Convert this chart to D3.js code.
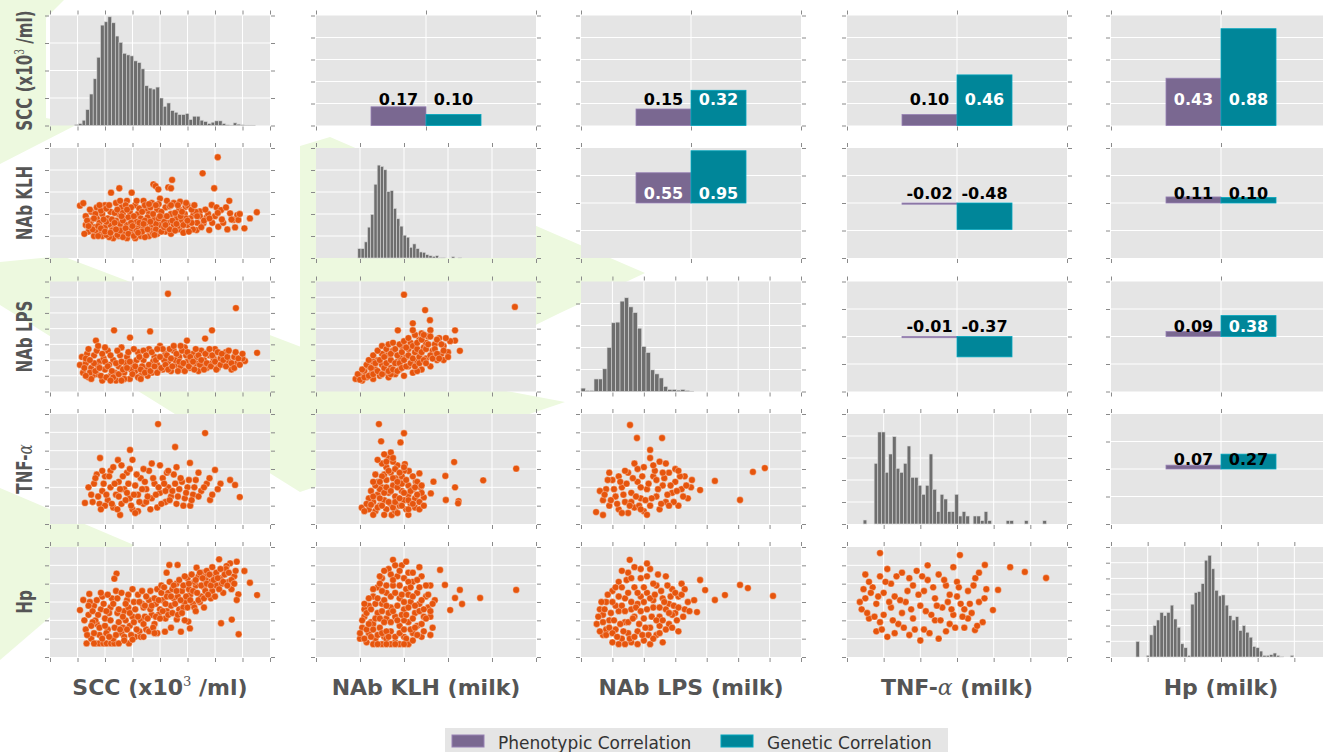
<!DOCTYPE html>
<html>
<head>
<meta charset="utf-8">
<script src="https://cdn.jsdelivr.net/npm/d3@7"></script>
<style>
  body { margin: 0; background: #fff; }
  text { font-family: "DejaVu Sans", sans-serif; }
</style>
</head>
<body>
<svg id="chart"></svg>
<script>
// ---- data ----
var varLabels = ['SCC', 'NAb KLH', 'NAb LPS', 'TNF-α', 'Hp'];
var axisSteps = [8, 5, 7, 6, 6];          // grid intervals on each variable axis

// histograms (diagonal): counts per bin, first bin left edge, bin width (axis units)
var sccHist = [3, 6, 16, 48, 95, 141, 206, 303, 313, 328, 310, 270, 251, 218, 213, 210, 195, 190, 171, 120,
  113, 110, 116, 83, 58, 68, 45, 40, 33, 33, 36, 18, 28, 28, 16, 12, 6, 10, 14, 14, 6, 2, 1, 8, 4, 2, 1, 1, 1];
var klhHist = [28, 28, 48, 92, 130, 220, 277, 273, 263, 198, 201, 148, 117, 95, 68, 62, 32, 42, 28, 18, 17, 10,
  7, 5, 7, 1, 2, 0, 0, 4, 0, 2];
var lpsHist = [10, 3, 3, 37, 37, 67, 130, 203, 205, 267, 277, 250, 233, 187, 133, 115, 64, 52, 40, 15, 6, 6, 4, 6, 3, 1];
var tnfHist = [12, 0, 0, 182, 276, 276, 155, 210, 262, 167, 155, 182, 234, 140, 140, 116, 89, 116, 210, 104, 37,
  89, 75, 37, 37, 89, 24, 37, 24, 0, 24, 24, 10, 37, 10, 0, 0, 0, 0, 10, 10, 0, 0, 0, 10, 0, 0, 0, 0, 10];
var hpHist = [47, 0, 0, 5, 67, 95, 112, 135, 125, 135, 157, 115, 90, 40, 28, 5, 160, 195, 198, 222, 293, 308, 267,
  202, 185, 188, 157, 125, 112, 122, 80, 95, 75, 60, 32, 28, 18, 5, 5, 7, 12, 5, 2, 0, 0, 5];
var histStart = [0.90, 0.95, 0.0, 0.44, 0.68];
var histWidth = [0.134, 0.0735, 0.138, 0.1, 0.0935];
var histMax = [332, 328, 325, 330, 333];
var histSteps = [4, 5, 5, 5, 7];

// correlations (upper triangle), pairs in row/col order
var corrPairs = [[0, 1], [0, 2], [0, 3], [0, 4], [1, 2], [1, 3], [1, 4], [2, 3], [2, 4], [3, 4]];
var phenCorr = [0.17, 0.15, 0.10, 0.43, 0.55, -0.02, 0.11, -0.01, 0.09, 0.07];
var genCorr = [0.10, 0.32, 0.46, 0.88, 0.95, -0.48, 0.10, -0.37, 0.38, 0.27];

// scatter points (lower triangle), "x,y" in axis units
var klhVsScc = '6.1,4.58 5.55,3.85 5.97,3.17 4.44,3.55 3.76,3.35 3.84,3.27 3.94,3.12 4.3,3.21 4.4,3.17 2.52,3.17 2.22,2.97 2.97,2.97 1.09,2.38 1.21,2.49 6.52,2.6 7.52,2.08 7.27,1.8 7.07,1.35 ' +
  '5.88,2.41 6.06,2.3 6.22,2.18 6.55,2.03 6.81,1.95 6.67,1.73 6.85,1.73 6.73,1.39 5.79,1.27 6.12,1.42 5.58,1.58 5.33,1.27 4.85,1.2 5.45,2.12 5.21,1.95 5.7,1.85 4.73,2.56 4.93,2.33 ' +
  '1.3,1.5 1.3,1.9 1.4,1.2 1.5,1.7 1.5,2.1 1.6,1.0 1.6,1.4 1.7,1.8 1.7,2.3 1.8,1.2 1.8,1.6 1.9,2.0 1.9,1.0 2.0,1.4 2.0,2.4 2.1,1.8 2.1,1.1 2.2,1.5 2.2,2.1 2.3,0.9 2.3,1.3 2.4,1.7 2.4,2.5 2.5,1.0 2.5,2.0 ' +
  '2.6,1.4 2.6,2.3 2.7,1.1 2.7,1.8 2.8,0.9 2.8,1.5 2.8,2.6 2.9,2.1 3.0,1.2 3.0,1.7 3.1,0.9 3.1,2.4 3.2,1.4 3.2,2.0 3.3,1.0 3.3,1.8 3.4,2.6 3.4,1.3 3.5,2.2 3.5,1.6 3.6,1.0 3.6,2.0 3.7,1.4 3.7,2.5 ' +
  '3.8,1.8 3.9,1.1 3.9,2.2 4.0,1.5 4.0,2.7 4.1,1.9 4.2,1.2 4.2,2.3 4.3,1.6 4.4,2.0 4.4,1.1 4.5,2.5 4.5,1.5 4.6,1.8 4.7,2.2 4.7,1.3 4.8,1.7 4.9,2.0 5.0,1.5 5.0,2.4 5.1,1.8 5.2,1.3 5.3,2.1 ' +
  '1.45,1.55 1.65,1.25 1.85,2.15 2.05,1.65 2.15,0.95 2.35,2.05 2.55,1.55 2.65,0.95 2.85,1.85 2.95,1.35 3.15,1.65 3.25,2.25 3.45,0.95 3.55,1.85 3.65,1.25 3.85,1.55 3.95,2.45 4.15,1.65 ' +
  '4.35,2.35 4.55,2.05 4.65,1.45 4.85,1.15 4.95,1.8 5.15,2.2 5.35,1.6 5.45,1.9 5.6,1.7 5.75,2.0 5.9,1.6 6.0,1.9 6.3,1.6 6.4,2.3 6.9,2.0 6.45,1.3 ' +
  '1.25,1.1 1.35,1.7 1.45,2.2 1.55,1.3 1.65,2.0 1.75,1.0 1.75,1.45 1.85,1.35 1.95,1.75 2.05,1.05 2.05,2.25 2.15,2.4 2.25,1.25 2.25,1.75 2.35,1.6 2.45,1.05 2.45,2.2 2.55,1.25 2.55,2.6 ' +
  '2.65,1.7 2.65,2.05 2.75,1.35 2.75,2.4 2.85,1.1 2.95,1.6 2.95,2.3 3.05,1.0 3.05,1.9 3.15,1.25 3.15,2.6 3.25,1.6 3.35,1.2 3.35,2.1 3.45,1.7 3.45,2.4 3.55,1.3 3.65,1.65 3.65,2.3 ' +
  '3.75,1.1 3.75,2.0 3.85,1.3 3.85,2.4 3.95,1.8 4.05,1.2 4.05,2.1 4.15,1.4 4.25,1.9 4.25,2.6 4.35,1.3 4.45,1.7 4.55,1.25 4.65,2.4 4.75,1.9 4.85,1.5 4.95,2.5 5.05,1.2 5.15,1.6 5.25,2.4 ' +
  '5.35,1.9 5.5,1.4 5.65,2.2 5.8,1.8 6.1,2.05 6.25,1.75 6.6,1.75 1.4,1.45 1.6,1.8 1.8,2.4 2.0,1.2 2.2,1.15 2.4,1.3 2.6,1.9 2.8,2.2 3.0,1.45 3.2,1.15 3.4,1.55 3.6,2.45 3.8,1.05 4.0,1.9 ' +
  '4.2,1.5 4.4,2.4 4.6,1.55 4.8,2.1 5.0,1.7';
var lpsVsScc = '4.29,6.22 6.76,5.31 5.89,3.89 2.33,3.89 3.64,3.82 1.67,3.24 7.53,2.46 7.09,1.94 5.64,3.37 4.98,3.24 2.91,3.43 1.16,2.2 1.09,1.69 ' +
  '1.2,1.2 1.3,1.8 1.4,0.9 1.5,1.5 1.6,2.3 1.7,1.1 1.8,1.9 1.9,0.7 2.0,1.4 2.1,2.6 2.2,1.0 2.3,2.0 2.4,0.7 2.5,1.6 2.6,2.8 2.7,1.2 2.8,2.2 2.9,0.8 3.0,1.8 3.1,1.3 3.2,2.5 3.3,1.0 3.4,2.0 ' +
  '3.5,1.5 3.6,2.7 3.7,1.2 3.8,2.2 3.9,1.7 4.0,2.9 4.1,1.4 4.2,2.4 4.3,1.9 4.4,1.3 4.5,2.6 4.6,1.7 4.7,2.2 4.8,1.4 4.9,2.8 5.0,1.9 5.1,1.5 5.2,2.4 5.3,1.8 5.4,1.3 5.5,2.6 5.6,2.0 5.7,1.5 ' +
  '5.8,2.3 5.9,1.8 6.0,2.7 6.1,1.5 6.2,2.1 6.3,1.7 6.4,2.5 6.5,1.9 6.6,1.4 6.7,2.2 6.8,1.8 7.0,2.1 1.35,2.4 1.55,1.0 1.75,1.6 1.95,2.1 2.15,1.7 2.35,1.2 2.55,2.3 2.75,1.8 2.95,1.4 ' +
  '3.15,2.0 3.35,1.6 3.55,1.0 3.75,1.9 3.95,1.4 4.15,2.0 4.35,2.7 4.55,2.0 4.75,1.6 4.95,2.3 5.15,2.0 5.35,2.2 5.55,1.7 5.75,2.5 5.95,2.1 ' +
  '1.25,1.5 1.3,2.1 1.4,2.7 1.45,1.2 1.5,0.8 1.6,1.8 1.65,1.3 1.7,2.6 1.8,1.5 1.85,1.0 1.9,2.4 2.0,1.9 2.05,0.9 2.1,1.6 2.2,2.3 2.25,1.3 2.3,0.9 2.4,1.8 2.45,2.6 2.5,1.1 2.6,1.9 ' +
  '2.65,1.4 2.7,0.8 2.8,1.5 2.85,2.5 2.9,1.9 3.0,1.1 3.05,2.7 3.1,1.6 3.2,0.9 3.25,2.2 3.3,1.4 3.4,2.6 3.45,1.2 3.5,2.3 3.6,1.7 3.65,1.3 3.7,2.5 3.8,1.6 3.85,2.0 3.9,1.2 4.0,2.2 ' +
  '4.05,1.5 4.1,2.7 4.2,1.7 4.25,2.3 4.3,1.4 4.4,2.1 4.45,1.6 4.5,2.9 4.6,2.4 4.65,1.3 4.7,1.9 4.8,2.6 4.85,1.8 4.9,1.3 5.0,2.5 5.05,1.6 5.1,2.2 5.2,1.9 5.25,1.4 5.3,2.7 5.4,2.3 ' +
  '5.45,1.7 5.5,2.0 5.6,1.4 5.65,2.4 5.7,1.8 5.8,2.7 5.85,1.6 5.9,2.3 6.0,1.9 6.05,1.4 6.1,2.5 6.2,1.7 6.25,2.4 6.3,2.0 6.4,1.6 6.45,2.2 6.5,2.6 6.6,1.8 6.7,1.5 6.75,2.5 6.85,2.1 ' +
  '6.9,1.7 7.0,2.4 1.3,1.0 1.45,2.0 1.75,2.9 2.2,0.7 2.6,0.7 3.3,0.8 2.0,2.8 3.9,2.7 4.75,2.9';
var lpsVsKlh = '2.0,6.16 2.48,5.18 2.59,4.54 3.16,3.24 3.27,2.59 3.16,3.89 4.52,5.38 1.86,3.89 2.2,4.34 ' +
  '0.9,0.8 1.0,1.0 1.05,0.7 1.1,1.3 1.15,0.9 1.2,1.6 1.25,1.1 1.3,0.8 1.35,1.4 1.4,2.0 1.45,1.0 1.5,1.7 1.55,1.2 1.6,2.3 1.65,0.9 1.7,1.5 1.75,2.6 1.8,1.1 1.85,1.9 1.9,1.4 1.95,2.9 ' +
  '2.0,1.0 2.05,2.2 2.1,1.6 2.15,3.1 2.2,1.2 2.25,2.5 2.3,1.9 2.35,3.3 2.4,1.4 2.45,2.8 2.5,2.1 2.55,3.5 2.6,1.6 2.65,2.6 2.7,3.0 2.75,2.0 2.8,3.4 2.85,2.4 2.9,2.9 1.3,1.9 1.5,2.4 ' +
  '1.7,1.1 1.9,2.2 2.1,2.7 2.3,1.3 2.5,3.1 2.7,2.3 2.9,2.0 2.4,3.7 2.6,3.9 3.0,2.5 3.05,3.2 ' +
  '0.95,1.1 1.0,0.75 1.05,1.4 1.1,0.9 1.15,1.7 1.2,1.0 1.2,2.0 1.25,1.5 1.3,1.1 1.3,2.3 1.35,1.8 1.4,1.3 1.4,2.6 1.45,2.0 1.5,1.1 1.5,2.9 1.55,1.5 1.55,2.2 1.6,1.8 1.6,2.7 1.65,1.3 ' +
  '1.65,3.0 1.7,2.0 1.7,2.4 1.75,1.4 1.75,3.1 1.8,1.8 1.8,2.7 1.85,2.3 1.85,1.3 1.9,3.0 1.9,1.8 1.95,2.5 1.95,1.5 2.0,3.2 2.0,2.0 2.05,1.6 2.05,2.8 2.1,2.3 2.1,3.4 2.15,1.8 2.2,2.9 ' +
  '2.2,2.1 2.25,3.6 2.25,1.6 2.3,2.7 2.3,3.1 2.35,2.2 2.35,1.8 2.4,3.3 2.4,2.5 2.45,2.0 2.45,3.6 2.5,2.7 2.5,1.8 2.55,3.0 2.6,2.3 2.6,3.5 2.65,2.1 2.7,2.7 2.75,3.3 2.75,2.4 2.8,2.1 ' +
  '2.85,3.0 2.9,2.6 2.95,3.4 3.0,2.2 2.2,3.9';
var tnfVsScc = '3.93,5.45 5.64,4.96 2.91,4.04 1.82,3.6 2.47,3.49 4.55,4.2 5.09,3.33 6.0,2.95 6.55,2.4 6.9,1.47 5.82,1.31 1.27,1.15 2.55,0.49 6.73,2.13 ' +
  '1.5,1.6 1.6,2.2 1.8,1.1 1.9,1.8 2.0,2.6 2.1,1.3 2.2,2.0 2.3,0.9 2.4,1.6 2.5,2.3 2.6,1.1 2.7,1.9 2.8,2.8 2.9,1.4 3.0,0.8 3.1,2.1 3.2,1.6 3.3,2.5 3.4,1.1 3.5,1.9 3.6,2.9 3.7,1.4 ' +
  '3.8,2.2 3.9,0.9 4.0,1.7 4.1,2.5 4.2,1.2 4.3,2.0 4.4,1.5 4.5,2.7 4.6,1.1 4.7,1.9 4.8,2.3 4.9,1.4 5.0,2.0 5.2,1.6 5.3,2.4 5.5,1.8 5.7,2.2 1.7,2.7 2.2,2.9 2.6,3.2 3.0,3.5 3.4,3.0 ' +
  '4.0,3.2 4.6,3.1 2.0,1.0 2.5,1.5 3.5,1.2 4.2,1.8 3.2,0.7 2.8,1.7 5.1,1.0 5.9,1.6 6.2,2.2 ' +
  '1.4,2.0 1.55,1.2 1.65,2.5 1.75,1.5 1.85,0.8 1.95,2.2 2.05,1.6 2.15,2.6 2.25,1.1 2.35,2.2 2.45,0.8 2.55,1.9 2.65,2.6 2.75,1.3 2.85,2.2 2.95,1.0 3.05,1.6 3.15,2.7 3.25,1.2 3.35,1.9 ' +
  '3.45,2.3 3.55,1.5 3.65,0.8 3.75,2.5 3.85,1.6 3.95,2.0 4.05,1.1 4.15,2.2 4.25,2.8 4.35,1.3 4.45,1.8 4.55,2.2 4.65,1.5 4.75,2.5 4.85,1.0 4.95,1.7 5.05,2.4 5.15,1.3 5.25,2.0 5.4,1.5 ' +
  '5.6,2.0 5.8,2.5 6.1,1.9 2.3,3.1 2.9,3.0 3.7,3.3 4.3,2.9 1.9,2.9 5.4,2.8 3.1,0.6';
var tnfVsKlh = '1.43,5.45 2.0,4.95 1.48,4.51 1.92,4.45 3.14,3.38 2.94,2.62 3.8,2.38 4.55,3.02 3.16,2.0 2.95,1.31 3.24,1.25 3.23,1.13 2.67,2.31 2.61,1.67 2.45,1.45 2.35,2.76 2.27,2.31 ' +
  '2.38,2.0 2.11,2.89 2.02,3.27 1.04,0.89 1.72,0.49 ' +
  '1.2,0.8 1.3,1.2 1.35,0.7 1.4,1.6 1.45,1.0 1.5,2.0 1.55,1.3 1.6,0.8 1.6,2.4 1.65,1.7 1.7,1.1 1.7,2.8 1.75,2.1 1.8,0.7 1.8,1.5 1.85,3.2 1.9,1.0 1.9,2.4 1.95,1.8 2.0,1.3 2.0,2.9 ' +
  '2.05,0.8 2.1,2.1 2.1,1.6 2.15,1.1 2.2,1.9 2.25,0.9 2.25,1.4 2.3,2.3 1.25,1.8 1.4,2.3 1.55,2.7 1.6,3.1 1.65,3.6 1.75,3.4 1.5,3.3 1.35,2.7 1.2,1.4 1.15,1.1 1.3,0.5 1.55,0.5 1.85,0.6 ' +
  '2.1,0.5 1.45,1.9 1.95,2.6 2.35,1.2 2.4,1.7 1.1,0.7 1.7,3.9 1.4,3.5 1.8,2.5 ' +
  '1.25,1.05 1.3,1.5 1.35,2.1 1.4,0.9 1.45,1.4 1.5,2.6 1.5,1.0 1.55,1.7 1.6,2.0 1.65,1.2 1.65,2.9 1.7,1.8 1.75,0.9 1.75,2.5 1.8,1.2 1.8,3.0 1.85,2.0 1.9,1.4 1.9,2.8 1.95,1.0 1.95,2.2 ' +
  '2.0,1.7 2.05,2.4 2.1,1.3 2.1,0.8 2.15,1.8 2.2,2.6 2.2,1.1 2.25,2.0 2.3,1.6 2.35,0.8 2.4,2.1 2.45,1.0 1.6,3.4 1.75,3.6 1.55,3.8 1.85,2.3 2.0,3.1 1.45,2.3 1.3,2.3';
var tnfVsLps = '1.56,5.4 1.78,4.69 2.58,4.69 2.2,4.04 5.47,2.84 5.85,3.05 5.06,1.31 4.26,2.35 3.53,2.4 3.79,1.85 0.48,0.65 0.7,0.49 ' +
  '0.7,1.3 0.8,1.9 0.9,1.0 1.0,2.4 1.1,1.5 1.2,0.8 1.3,2.0 1.4,1.2 1.5,2.8 1.6,1.7 1.7,0.9 1.8,2.3 1.9,1.4 2.0,3.1 2.1,1.9 2.2,1.0 2.3,2.6 2.4,1.5 2.5,3.4 2.6,2.1 2.7,1.2 2.8,2.8 ' +
  '2.9,1.7 3.0,2.3 3.1,1.0 3.2,1.9 3.3,2.6 3.4,1.4 1.5,0.6 2.0,0.7 2.5,0.8 1.2,2.6 1.7,3.3 2.2,3.6 2.7,3.3 3.0,3.0 1.9,2.0 2.4,2.4 1.6,1.2 0.6,1.8 3.5,2.0 2.1,0.5 ' +
  '0.75,1.6 0.85,2.4 0.95,1.3 1.05,1.9 1.15,1.1 1.25,2.3 1.35,1.6 1.45,2.2 1.55,1.0 1.65,2.5 1.75,1.5 1.85,1.0 1.95,2.6 2.05,1.3 2.15,2.2 2.25,1.4 2.35,2.9 2.45,1.9 2.55,1.1 2.65,2.5 ' +
  '2.75,1.6 2.85,2.1 2.95,1.2 3.05,1.8 3.15,2.6 3.25,1.5 3.35,2.1 1.8,3.0 2.3,3.2 2.6,2.8 1.4,2.9 3.1,2.9 0.9,2.8 1.3,0.6 1.9,0.8 2.8,1.0';
var hpVsScc = '6.15,5.33 6.79,5.2 6.55,5.11 6.42,4.96 7.07,4.69 7.27,4.05 7.53,3.38 6.85,3.42 6.79,3.11 6.22,1.84 6.61,2.04 6.86,1.24 5.03,1.93 5.09,1.56 4.76,1.38 4.18,1.38 4.61,2.05 ' +
  '2.42,4.55 2.34,4.27 1.21,3.11 1.09,2.56 1.43,3.44 1.33,0.74 1.64,0.74 1.79,0.74 1.94,0.74 2.06,0.74 2.22,0.74 2.34,0.74 2.87,0.74 4.34,5.02 4.64,5.02 4.24,4.6 5.33,4.87 5.6,4.6 5.7,4.4 ' +
  '1.3,1.5 1.4,2.3 1.5,1.0 1.6,2.8 1.7,1.8 1.8,1.2 1.9,3.3 2.0,2.1 2.1,1.5 2.2,2.7 2.3,1.0 2.4,3.6 2.5,1.9 2.6,1.3 2.7,2.5 2.8,3.1 2.9,1.7 3.0,2.2 3.1,1.1 3.2,3.4 3.3,2.0 3.4,2.7 ' +
  '3.5,1.5 3.6,3.1 3.7,2.3 3.8,1.8 3.9,3.7 4.0,2.6 4.1,3.1 4.2,2.1 4.3,3.5 4.4,2.8 4.5,3.2 4.6,4.0 4.7,2.6 4.8,3.6 4.9,3.0 5.0,4.3 5.1,3.4 5.2,2.9 5.3,3.9 5.4,4.4 5.5,3.3 5.6,3.8 ' +
  '5.7,4.7 5.8,4.1 5.9,3.6 6.0,4.5 6.1,3.9 6.2,4.3 6.3,3.5 6.4,4.8 6.5,4.1 6.6,3.7 6.7,4.4 1.45,3.0 1.65,2.0 1.85,2.6 2.05,1.3 2.25,3.2 2.45,2.4 2.65,1.6 2.85,2.7 3.05,3.0 3.25,1.4 ' +
  '3.45,2.2 3.65,2.6 3.85,2.9 4.05,3.9 4.25,2.5 4.45,3.7 4.65,3.3 4.85,2.7 5.05,3.7 5.25,4.1 5.45,3.0 5.65,4.2 5.85,3.2 6.05,3.9 6.25,4.0 1.55,1.9 2.15,2.4 2.75,2.0 3.35,2.9 3.95,2.3 ' +
  '1.25,2.0 1.35,1.2 1.4,2.8 1.5,1.7 1.55,2.5 1.6,1.3 1.7,3.1 1.75,2.3 1.8,1.6 1.85,3.5 1.9,1.0 1.95,2.9 2.0,1.7 2.05,2.5 2.1,3.4 2.15,1.1 2.2,2.0 2.3,2.9 2.35,1.6 2.4,1.2 2.45,3.2 ' +
  '2.5,2.6 2.55,1.5 2.6,3.5 2.65,2.2 2.7,1.1 2.75,2.9 2.8,1.5 2.85,3.4 2.9,2.4 2.95,1.2 3.0,3.7 3.05,1.9 3.1,2.6 3.15,1.5 3.2,2.2 3.25,3.0 3.3,1.1 3.35,3.6 3.4,1.8 3.45,2.8 3.5,3.3 ' +
  '3.55,2.1 3.6,1.4 3.65,3.6 3.7,2.8 3.75,1.6 3.8,3.2 3.85,2.2 3.9,1.3 3.95,3.1 4.0,2.1 4.05,3.5 4.1,2.5 4.15,3.8 4.2,2.9 4.25,3.3 4.3,2.3 4.35,4.1 4.4,3.3 4.45,2.4 4.5,3.9 4.55,2.9 ' +
  '4.6,3.6 4.65,2.3 4.7,4.2 4.75,3.1 4.8,2.4 4.85,3.9 4.9,4.4 4.95,3.3 5.0,2.7 5.05,4.0 5.1,3.1 5.15,4.5 5.2,3.6 5.25,2.7 5.3,4.2 5.35,3.5 5.4,3.1 5.45,4.6 5.5,3.9 5.55,4.3 5.6,3.2 ' +
  '5.65,3.6 5.7,4.0 5.75,3.4 5.8,4.5 5.85,3.9 5.9,4.9 5.95,4.2 6.0,3.3 6.05,4.6 6.1,4.3 6.15,3.7 6.2,4.8 6.3,4.1 6.35,4.5 6.45,3.9 6.5,4.6 6.6,4.2 6.7,4.0 6.75,4.7 1.6,0.74 2.5,0.74 ' +
  '2.7,0.9 3.0,0.95 3.4,1.1 3.8,1.3 4.4,1.6 4.9,2.0 5.3,2.5 5.6,2.7';
var hpVsKlh = '3.16,3.22 3.32,2.89 3.73,3.22 4.55,3.66 3.05,2.56 2.93,3.93 2.82,4.75 3.27,3.66 ' +
  '1.0,1.0 1.05,1.6 1.1,2.2 1.15,0.8 1.2,1.3 1.2,2.8 1.25,1.9 1.3,3.3 1.35,1.0 1.4,2.4 1.4,3.8 1.45,1.6 1.5,2.9 1.5,4.3 1.55,1.1 1.6,2.1 1.6,3.5 1.65,4.8 1.7,1.4 1.7,2.7 1.75,3.9 ' +
  '1.8,0.8 1.8,2.2 1.85,4.4 1.9,1.7 1.9,3.2 1.95,5.0 2.0,1.1 2.0,2.6 2.05,3.7 2.1,4.6 2.1,1.9 2.15,3.0 2.2,1.3 2.2,4.1 2.25,2.4 2.3,3.5 2.3,1.7 2.35,2.9 2.4,4.4 2.4,1.1 2.45,2.2 ' +
  '2.5,3.3 2.55,2.7 2.6,3.9 2.65,1.6 2.7,3.1 1.3,0.7 1.5,0.7 1.7,0.7 1.9,0.7 2.1,0.7 2.6,2.2 1.1,2.6 1.3,1.8 1.6,1.0 2.0,2.0 1.75,5.3 2.05,5.2 1.45,4.0 2.35,4.9 ' +
  '1.0,1.3 1.05,2.0 1.1,1.0 1.1,2.9 1.15,1.5 1.15,2.4 1.2,3.2 1.2,1.8 1.25,1.1 1.25,2.6 1.3,1.5 1.3,3.7 1.35,2.1 1.35,2.9 1.4,1.2 1.4,3.2 1.45,2.1 1.45,4.4 1.5,1.3 1.5,2.5 1.5,3.6 ' +
  '1.55,1.9 1.55,3.1 1.55,4.7 1.6,1.4 1.6,2.8 1.6,3.9 1.65,2.4 1.65,1.1 1.7,3.3 1.7,4.5 1.7,1.9 1.75,2.5 1.75,4.2 1.8,1.1 1.8,3.5 1.8,5.0 1.85,2.0 1.85,2.8 1.9,1.3 1.9,3.9 1.9,4.7 ' +
  '1.95,2.3 1.95,3.4 2.0,1.5 2.0,4.3 2.0,3.0 2.05,1.0 2.05,2.3 2.1,3.4 2.1,2.7 2.1,4.1 2.15,1.5 2.15,3.8 2.2,2.1 2.2,3.3 2.2,4.6 2.25,1.6 2.25,2.8 2.3,1.2 2.3,4.2 2.35,2.5 2.35,3.8 ' +
  '2.4,1.8 2.4,3.1 2.45,2.6 2.45,1.4 2.5,3.9 2.5,2.1 2.55,3.4 2.6,2.5 2.6,1.2 2.65,2.9 1.4,0.7 1.6,0.7 1.8,0.7 2.0,0.7 2.2,0.9';
var hpVsLps = '3.79,4.2 4.26,3.11 4.58,3.38 5.06,3.93 5.31,3.76 6.11,3.33 3.69,2.45 3.95,3.65 ' +
  '0.5,1.8 0.6,2.6 0.7,1.2 0.8,3.0 0.9,2.0 1.0,0.8 1.0,3.6 1.1,1.5 1.2,2.5 1.2,4.1 1.3,1.0 1.4,3.2 1.4,1.9 1.5,4.6 1.6,2.6 1.6,0.8 1.7,3.8 1.8,1.4 1.8,2.9 1.9,4.3 2.0,2.1 2.0,0.9 ' +
  '2.1,3.5 2.2,1.6 2.2,4.8 2.3,2.7 2.4,1.2 2.4,3.9 2.5,2.2 2.6,3.2 2.6,0.8 2.7,4.4 2.8,1.8 2.8,2.9 2.9,3.7 3.0,2.4 3.1,1.4 3.1,3.3 3.2,4.0 3.3,2.6 3.4,3.0 0.8,1.5 1.1,2.8 1.3,4.7 ' +
  '1.5,1.3 1.7,2.2 1.9,3.3 2.1,5.1 2.3,3.1 2.5,1.7 2.7,2.6 2.9,2.3 1.2,0.7 1.4,0.7 1.8,0.7 2.2,0.7 1.55,5.3 0.7,2.3 ' +
  '0.55,2.2 0.6,1.4 0.65,3.0 0.7,1.9 0.75,2.6 0.8,1.2 0.85,3.4 0.9,1.6 0.95,2.4 1.0,1.3 1.0,3.0 1.05,2.0 1.1,3.8 1.15,1.1 1.2,3.3 1.25,1.8 1.3,2.8 1.3,3.8 1.35,1.4 1.4,2.5 1.45,4.2 ' +
  '1.5,1.9 1.5,3.5 1.55,1.0 1.6,3.0 1.6,4.3 1.65,2.1 1.7,1.1 1.7,4.9 1.75,2.7 1.8,3.5 1.85,1.8 1.9,2.5 1.9,4.8 1.95,1.2 2.0,3.0 2.0,3.8 2.05,1.6 2.1,2.6 2.1,4.4 2.15,1.2 2.2,3.2 ' +
  '2.25,2.2 2.3,4.0 2.3,1.0 2.35,3.4 2.4,2.0 2.45,4.5 2.5,2.7 2.5,1.3 2.55,3.6 2.6,2.0 2.65,3.0 2.7,1.5 2.75,3.9 2.8,2.4 2.85,3.3 2.9,1.6 2.95,2.8 3.0,3.5 3.05,2.0 3.1,2.7 3.2,3.4 ' +
  '3.25,2.2 3.3,3.7 3.45,2.5 3.6,3.1';
var hpVsTnf = '4.45,4.9 4.85,4.64 5.43,4.31 4.12,3.66 0.9,5.67 3.08,5.56 3.76,5.02 3.49,1.47 3.98,2.56 ' +
  '0.4,2.6 0.5,3.2 0.6,2.1 0.7,3.8 0.8,1.4 0.8,2.9 0.9,4.4 1.0,2.3 1.0,3.5 1.1,1.1 1.2,4.0 1.2,2.7 1.3,3.3 1.4,1.8 1.5,4.6 1.5,2.4 1.6,3.0 1.7,1.2 1.8,3.9 1.8,2.1 1.9,4.7 2.0,2.8 ' +
  '2.1,1.5 2.1,3.6 2.2,4.2 2.3,2.3 2.4,3.2 2.5,1.0 2.5,4.5 2.6,2.7 2.7,3.9 2.8,1.8 2.8,3.4 2.9,2.3 3.0,4.1 3.1,2.9 3.2,1.6 3.3,3.6 3.4,2.4 3.5,4.3 3.6,3.0 3.7,1.9 3.8,3.7 0.9,1.9 ' +
  '1.3,1.3 1.7,4.3 2.0,0.9 2.4,2.0 2.7,1.4 3.0,3.3 3.3,2.1 3.6,4.6 1.1,4.8 0.6,4.1 2.2,5.0 2.9,4.9 3.2,2.6 ' +
  '0.45,3.7 0.55,2.4 0.65,3.5 0.75,2.2 0.85,3.3 0.95,1.5 1.05,4.1 1.15,3.0 1.25,2.0 1.35,4.4 1.45,3.1 1.55,1.6 1.65,3.6 1.75,2.6 1.85,1.5 1.95,3.4 2.05,4.4 2.15,2.5 2.25,1.3 2.35,3.8 ' +
  '2.45,2.8 2.55,2.0 2.65,4.2 2.75,3.0 2.85,2.6 2.95,1.6 3.05,3.8 3.15,2.2 3.35,2.9 3.45,3.9 3.55,1.7 3.75,3.2 0.35,3.0 0.5,4.5';

var histData = [sccHist, klhHist, lpsHist, tnfHist, hpHist];
var scatterData = {
  '1-0': klhVsScc, '2-0': lpsVsScc, '2-1': lpsVsKlh,
  '3-0': tnfVsScc, '3-1': tnfVsKlh, '3-2': tnfVsLps,
  '4-0': hpVsScc, '4-1': hpVsKlh, '4-2': hpVsLps, '4-3': hpVsTnf
};
var legendLabels = ['Phenotypic Correlation', 'Genetic Correlation'];

// ---- layout ----
var width = 1323, height = 752;
var colLeft = [50, 316, 581, 847, 1111];
var rowTop = [15.5, 148, 281.5, 414, 547];
var panelW = 220, panelH = 110;
var purple = '#7a6891', teal = '#008699', orange = '#e6550d';

var svg = d3.select('#chart')
  .attr('width', width)
  .attr('height', height);

// light green decoration behind the grid
var greenShapes = [
  [[0, 0], [64, 0], [46, 18], [46, 118], [78, 124], [0, 164]],
  [[300, 146], [330, 137], [645, 273], [560, 313], [300, 440]],
  [[0, 262], [62, 256], [330, 358], [565, 402], [300, 492], [0, 305]],
  [[0, 488], [134, 545], [0, 660]]
];
svg.selectAll('polygon.bg')
  .data(greenShapes)
  .enter()
  .append('polygon')
  .attr('points', function(d) { return d.map(function(p) { return p.join(','); }).join(' '); })
  .style('fill', '#edf9df');

function parsePoints(s) {
  return s.trim().split(/\s+/).map(function(p) {
    var v = p.split(',');
    return [+v[0], +v[1]];
  });
}

function varScale(k) {
  return d3.scaleLinear().domain([0, axisSteps[k]]).range([0, panelW]);
}

function drawFrame(g, x, y, xTicks, yTicks) {
  g.append('rect')
    .attr('width', panelW)
    .attr('height', panelH)
    .style('fill', '#e5e5e5');
  g.selectAll('line.vgrid')
    .data(xTicks.slice(1, -1))
    .enter()
    .append('line')
    .attr('x1', function(d) { return x(d); })
    .attr('x2', function(d) { return x(d); })
    .attr('y1', 0)
    .attr('y2', panelH)
    .style('stroke', '#fff')
    .style('stroke-width', 1);
  g.selectAll('line.hgrid')
    .data(yTicks.slice(1, -1))
    .enter()
    .append('line')
    .attr('y1', function(d) { return y(d); })
    .attr('y2', function(d) { return y(d); })
    .attr('x1', 0)
    .attr('x2', panelW)
    .style('stroke', '#fff')
    .style('stroke-width', 1);

  // tick marks on all four sides, no labels
  var axes = [
    d3.axisBottom(x).tickValues(xTicks), d3.axisTop(x).tickValues(xTicks),
    d3.axisLeft(y).tickValues(yTicks), d3.axisRight(y).tickValues(yTicks)
  ];
  var shifts = ['translate(0,' + (panelH + 1) + ')', 'translate(0,-1)', 'translate(-1,0)', 'translate(' + (panelW + 1) + ',0)'];
  axes.forEach(function(ax, k) {
    var a = g.append('g')
      .attr('transform', shifts[k])
      .call(ax.tickSize(4).tickFormat(''));
    a.select('.domain').remove();
    a.selectAll('line').style('stroke', '#8a8a8a');
  });
}

function drawHist(g, k) {
  var x = varScale(k);
  var y = d3.scaleLinear().domain([0, histMax[k]]).range([panelH, 0]);
  var yTicks = d3.range(histSteps[k] + 1).map(function(i) { return i * histMax[k] / histSteps[k]; });
  drawFrame(g, x, y, d3.range(axisSteps[k] + 1), yTicks);
  var bw = x(histWidth[k]) - x(0);
  g.selectAll('rect.bin')
    .data(histData[k])
    .enter()
    .append('rect')
    .attr('x', function(d, i) { return x(histStart[k] + i * histWidth[k]); })
    .attr('width', bw)
    .attr('y', function(d) { return y(d); })
    .attr('height', function(d) { return panelH - y(d); })
    .style('fill', '#6e6e6e')
    .style('stroke', '#d8d8d8')
    .style('stroke-width', 0.6);
}

function drawScatter(g, i, j) {
  var x = varScale(j);
  var y = d3.scaleLinear().domain([0, axisSteps[i]]).range([panelH, 0]);
  drawFrame(g, x, y, d3.range(axisSteps[j] + 1), d3.range(axisSteps[i] + 1));
  g.selectAll('circle')
    .data(parsePoints(scatterData[i + '-' + j]))
    .enter()
    .append('circle')
    .attr('cx', function(d) { return x(d[0]); })
    .attr('cy', function(d) { return y(d[1]); })
    .attr('r', 3.4)
    .style('fill', orange)
    .style('stroke', '#fff')
    .style('stroke-opacity', 0.55)
    .style('stroke-width', 0.6);
}

function drawBars(g, i, j) {
  var k = corrPairs.findIndex(function(p) { return p[0] === i && p[1] === j; });
  var x = d3.scaleLinear().domain([-1, 1]).range([0, panelW]);
  var y, yTicks, labelAt;
  if (i === 0) {
    y = d3.scaleLinear().domain([0, 1]).range([panelH, 0]);
    yTicks = [0, 0.2, 0.4, 0.6, 0.8, 1];
    labelAt = 0.19;
  } else {
    y = d3.scaleLinear().domain([-1, 1]).range([panelH, 0]);
    yTicks = [-1, -0.5, 0, 0.5, 1];
    labelAt = 0.08;
  }
  drawFrame(g, x, y, [-1, 0, 1], yTicks);
  var bars = [
    { x0: -0.5, v: phenCorr[k], c: purple },
    { x0: 0, v: genCorr[k], c: teal }
  ];
  g.selectAll('rect.corr')
    .data(bars)
    .enter()
    .append('rect')
    .attr('x', function(d) { return x(d.x0); })
    .attr('width', x(0.5) - x(0))
    .attr('y', function(d) { return y(Math.max(0, d.v)); })
    .attr('height', function(d) { return Math.max(1.2, Math.abs(y(d.v) - y(0))); })
    .style('fill', function(d) { return d.c; })
    .style('stroke', function(d) { return d3.color(d.c).brighter(0.6); })
    .style('stroke-width', 0.8);
  g.selectAll('text.val')
    .data(bars)
    .enter()
    .append('text')
    .attr('x', function(d) { return x(d.x0 + 0.25); })
    .attr('y', y(labelAt))
    .attr('text-anchor', 'middle')
    .style('font-size', '16px')
    .style('font-weight', 'bold')
    .style('fill', function(d) { return d.v > 0.3 ? '#fff' : '#000'; })
    .text(function(d) { return d.v.toFixed(2); });
}

for (var i = 0; i < 5; i++) {
  for (var j = 0; j < 5; j++) {
    var g = svg.append('g')
      .attr('transform', 'translate(' + colLeft[j] + ',' + rowTop[i] + ')');
    if (i === j) drawHist(g, i);
    else if (i > j) drawScatter(g, i, j);
    else drawBars(g, i, j);
  }
}

// axis titles
function addTitle(t, k, rotated) {
  var name = varLabels[k];
  if (k === 0) {
    t.append('tspan').text('SCC (x10');
    t.append('tspan').attr('dy', rotated ? -8 : -9).style('font-size', '60%').style('font-weight', 'normal')
      .style('font-family', 'DejaVu Serif').text('3');
    t.append('tspan').attr('dy', rotated ? 8 : 9).text(' /ml)');
  } else if (k === 3) {
    t.append('tspan').text('TNF-');
    t.append('tspan').style('font-family', 'DejaVu Serif').style('font-style', 'italic').style('font-weight', 'normal').text('α');
  } else {
    t.append('tspan').text(name);
  }
  if (!rotated && k > 0) t.append('tspan').text(' (milk)');
}

for (var k = 0; k < 5; k++) {
  var tx = svg.append('text')
    .attr('x', colLeft[k] + panelW / 2)
    .attr('y', 695)
    .attr('text-anchor', 'middle')
    .style('font-size', '22px')
    .style('font-weight', 'bold')
    .style('fill', '#555');
  addTitle(tx, k, false);

  var ty = svg.append('text')
    .attr('transform', 'translate(32,' + (rowTop[k] + panelH / 2) + ') rotate(-90) scale(0.72,1)')
    .attr('text-anchor', 'middle')
    .style('font-size', '21px')
    .style('font-weight', 'bold')
    .style('fill', '#555');
  addTitle(ty, k, true);
}

// legend
var legend = svg.append('g').attr('transform', 'translate(445,728)');
legend.append('rect')
  .attr('width', 503)
  .attr('height', 30)
  .style('fill', '#e5e5e5');
var lx = [7, 276];
legendLabels.forEach(function(name, k) {
  legend.append('rect')
    .attr('x', lx[k])
    .attr('y', 7)
    .attr('width', 32)
    .attr('height', 12)
    .style('fill', k === 0 ? purple : teal)
    .style('stroke', d3.color(k === 0 ? purple : teal).brighter(0.6));
  legend.append('text')
    .attr('x', lx[k] + 46)
    .attr('y', 21)
    .style('font-size', '17px')
    .style('fill', '#333')
    .text(name);
});
</script>
</body>
</html>
